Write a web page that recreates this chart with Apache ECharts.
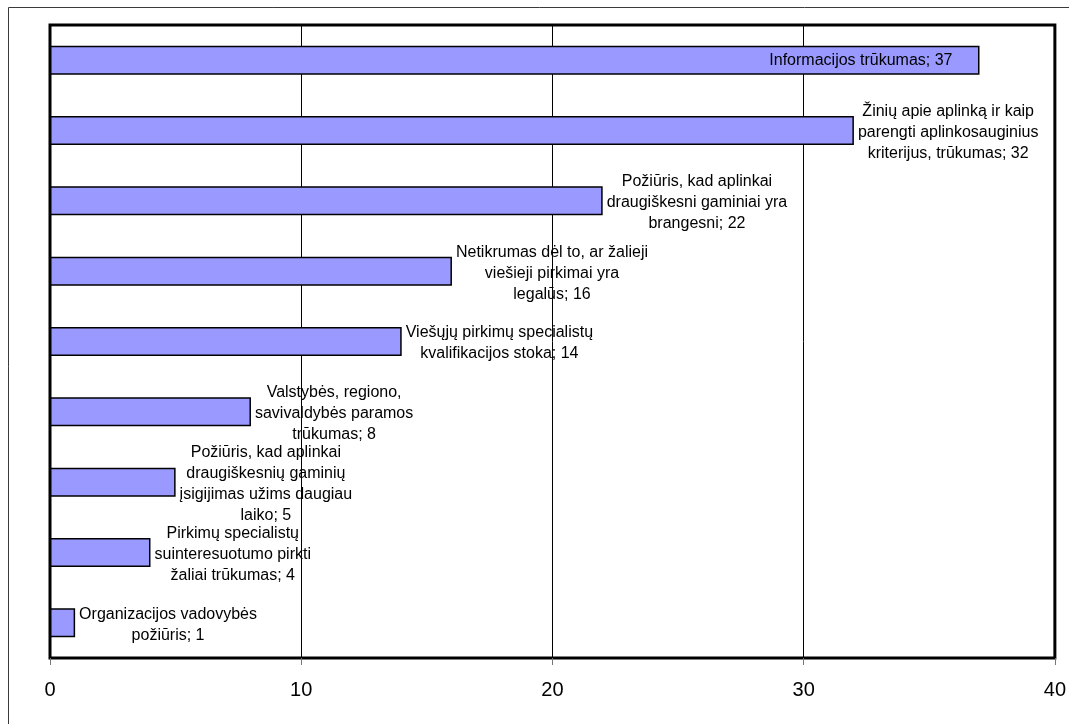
<!DOCTYPE html>
<html>
<head>
<meta charset="utf-8">
<script src="https://cdn.jsdelivr.net/npm/echarts@6/dist/echarts.min.js"></script>
<style>
 html,body{margin:0;padding:0;background:#fff;}
 #chart{width:1069px;height:724px;}
</style>
</head>
<body>
<div id="chart"></div>
<script>
// kategorijos (eilutės laužiamos kaip paveiksle)
var categories = [
  "Informacijos trūkumas",
  "Žinių apie aplinką ir kaip\nparengti aplinkosauginius\nkriterijus, trūkumas",
  "Požiūris, kad aplinkai\ndraugiškesni gaminiai yra\nbrangesni",
  "Netikrumas dėl to, ar žalieji\nviešieji pirkimai yra\nlegalūs",
  "Viešųjų pirkimų specialistų\nkvalifikacijos stoka",
  "Valstybės, regiono,\nsavivaldybės paramos\ntrūkumas",
  "Požiūris, kad aplinkai\ndraugiškesnių gaminių\nįsigijimas užims daugiau\nlaiko",
  "Pirkimų specialistų\nsuinteresuotumo pirkti\nžaliai trūkumas",
  "Organizacijos vadovybės\npožiūris"
];
var values = [37, 32, 22, 16, 14, 8, 5, 4, 1];
var xTicks = [0, 10, 20, 30, 40];

var font = "'Liberation Sans', Arial, sans-serif";
var myChart = echarts.init(document.getElementById('chart'));

var option = {
  animation: false,
  backgroundColor: '#fff',
  graphic: [{
    type: 'rect',
    shape: {x: 8.5, y: 7.5, width: 1100, height: 800},
    style: {fill: 'none', stroke: '#3a3a3a', lineWidth: 1},
    silent: true,
    z: -1
  }],
  grid: {
    left: 50, right: 12, top: 25, bottom: 66,
    show: true,
    borderColor: '#000',
    borderWidth: 3
  },
  xAxis: {
    type: 'value',
    min: xTicks[0],
    max: xTicks[xTicks.length - 1],
    interval: 10,
    axisLine: {show: false},
    axisTick: {show: true, length: 7, lineStyle: {color: '#777', width: 1}},
    axisLabel: {fontSize: 20, color: '#000', fontFamily: font, margin: 22},
    splitLine: {show: true, lineStyle: {color: '#000', width: 1}}
  },
  yAxis: {
    type: 'category',
    inverse: true,
    data: categories,
    axisLine: {show: false},
    axisTick: {show: false},
    axisLabel: {show: false}
  },
  series: [{
    type: 'bar',
    data: values,
    barWidth: 29,
    itemStyle: {color: '#9999ff', borderColor: '#000', borderWidth: 1.5},
    label: {
      show: true,
      position: 'right',
      fontSize: 16,
      lineHeight: 21,
      color: '#000',
      fontFamily: font,
      formatter: function (p) {
        return p.name + '; ' + p.value;
      }
    },
    labelLayout: function (params) {
      var r = params.rect, l = params.labelRect;
      var cy = r.y + r.height / 2;
      if (params.dataIndex === 0) {
        // per ilgas - rašoma stulpelio viduje
        return {x: r.x + r.width - 27 - l.width / 2, y: cy, align: 'center', verticalAlign: 'middle'};
      }
      return {x: r.x + r.width + 4 + l.width / 2, y: cy + 2, align: 'center', verticalAlign: 'middle'};
    }
  }]
};
myChart.setOption(option);
</script>
</body>
</html>
